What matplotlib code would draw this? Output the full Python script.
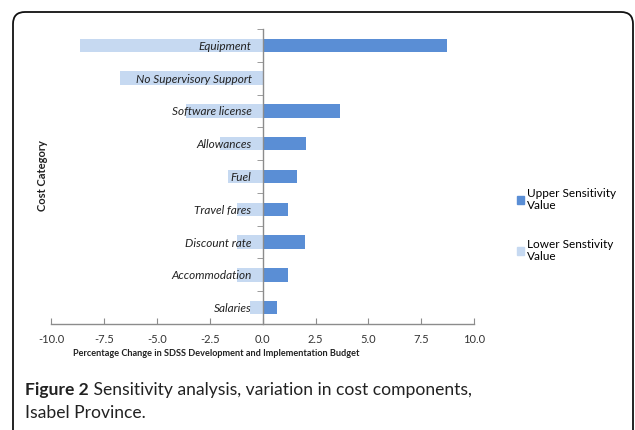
import matplotlib
matplotlib.use("Agg")
import matplotlib.pyplot as plt
from matplotlib.patches import FancyBboxPatch, Patch
from matplotlib.transforms import IdentityTransform

# Data (top to bottom as shown)
categories = ["Equipment", "No Supervisory Support", "Software license", "Allowances",
              "Fuel", "Travel fares", "Discount rate", "Accommodation", "Salaries"]
upper_values = [8.7, 0.0, 3.65, 2.05, 1.62, 1.22, 2.02, 1.18, 0.68]
lower_values = [-8.65, -6.72, -3.6, -2.0, -1.62, -1.2, -1.2, -1.2, -0.62]
x_ticks = [-10.0, -7.5, -5.0, -2.5, 0.0, 2.5, 5.0, 7.5, 10.0]

upper_color = "#5A8ED5"
lower_color = "#C6D9F1"
axis_color = "#8C8C8C"
label_font = "Lato"
caption_font = "Lato"

fig = plt.figure(figsize=(6.35, 4.30), dpi=100)
W, H = 635, 430
ax = fig.add_axes([51 / W, 1 - 324 / H, (474.3 - 51) / W, (324 - 29) / H])

ypos = list(range(len(categories)))
ax.barh(ypos, lower_values, height=0.41, color=lower_color, zorder=1)
ax.barh(ypos, upper_values, height=0.41, color=upper_color, zorder=1)

ax.set_xlim(-10, 10)
ax.set_ylim(len(categories) - 0.5, -0.5)

# spines
ax.spines["top"].set_visible(False)
ax.spines["right"].set_visible(False)
ax.spines["left"].set_position(("data", 0))
for s in ("left", "bottom"):
    ax.spines[s].set_color(axis_color)
    ax.spines[s].set_linewidth(1.0)

ax.set_xticks(x_ticks)
ax.set_xticklabels([f"{v:.1f}" for v in x_ticks])
ax.tick_params(axis="x", direction="in", length=4, color=axis_color, labelsize=8,
               labelcolor="#333333", pad=7)
for lbl in ax.get_xticklabels():
    lbl.set_family(label_font)

ax.set_yticks(ypos)
ax.set_yticklabels(categories, fontstyle="italic", family=label_font)
ax.tick_params(axis="y", which="major", length=0, pad=8, labelsize=8.5, labelcolor="#222222")
ax.set_yticks([i - 0.5 for i in range(len(categories) + 1)], minor=True)
ax.tick_params(axis="y", which="minor", direction="out", length=4, color=axis_color)

# axis titles
fig.text(216 / W, 1 - 353 / H, "Percentage Change in SDSS Development and Implementation Budget",
         ha="center", va="center", fontsize=6.6, fontweight="bold", family=label_font, color="#222222")
fig.text(43 / W, 1 - 176 / H, "Cost Category", rotation=90, ha="center", va="center",
         fontsize=8, fontweight="bold", family=label_font, color="#222222")

# legend
handles = [Patch(color=upper_color, label="Upper Sensitivity\nValue"),
           Patch(color=lower_color, label="Lower Senstivity\nValue")]
fig.legend(handles=handles, loc="upper left", bbox_to_anchor=(506 / W, 1 - 177 / H),
           frameon=False, handlelength=0.6, handleheight=0.6,
           handletextpad=0.3, labelspacing=2.3, prop={"family": label_font, "size": 8.5})

# caption
t1 = fig.text(25 / W, 1 - 395 / H, "Figure 2", fontsize=12.6, fontweight="bold",
              family=caption_font, color="#222222", va="baseline")
ax.annotate(" Sensitivity analysis, variation in cost components,", xy=(1, 0), xycoords=t1,
            va="bottom", fontsize=12.6, family=caption_font, color="#222222",
            annotation_clip=False)
fig.text(25 / W, 1 - 418 / H, "Isabel Province.", fontsize=12.6,
         family=caption_font, color="#222222", va="baseline")

# rounded border
border = FancyBboxPatch((13, -30), 620, 30 + H - 12,
                        boxstyle="round,pad=0,rounding_size=12",
                        transform=IdentityTransform(), fill=False,
                        edgecolor="#111111", linewidth=1.3)
fig.patches.append(border)

fig.savefig("out.png", dpi=100)
